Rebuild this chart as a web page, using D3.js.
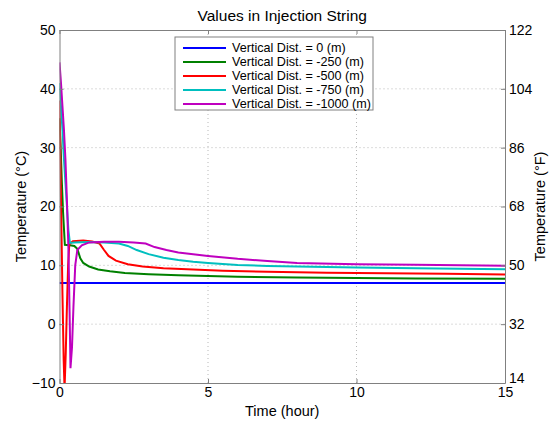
<!DOCTYPE html>
<html>
<head>
<meta charset="utf-8">
<script src="https://cdn.jsdelivr.net/npm/d3@7"></script>
<style>
  body { margin: 0; background: #fff; }
  svg { font-family: "Liberation Sans", Arial, sans-serif; }
  .axis path, .axis line { stroke: #808080; }
  .axis text { fill: #000; font-size: 14px; }
  .grid line { stroke: #b8b8b8; stroke-dasharray: 1,3; }
</style>
</head>
<body>
<svg id="chart"></svg>
<script>
// series names + colours
const seriesNames = ["Vertical Dist. = 0 (m)", "Vertical Dist. = -250 (m)", "Vertical Dist. = -500 (m)",
  "Vertical Dist. = -750 (m)", "Vertical Dist. = -1000 (m)"];
const seriesColors = ["#0000ff", "#008000", "#ff0000", "#00bfbf", "#bf00bf"];

// time (hour), temperature (C)
const dist0 = [[0, 7], [15, 7]];
const dist250 = [[0, 35], [0.04, 30], [0.08, 24], [0.12, 19], [0.18, 13.5], [0.35, 13.4], [0.5, 13.3],
  [0.6, 12.8], [0.7, 11.2], [0.8, 10.4], [1.0, 9.8], [1.3, 9.3], [1.7, 9.0], [2.2, 8.7], [3, 8.5],
  [4, 8.3], [5, 8.2], [6, 8.05], [8, 7.92], [10, 7.85], [12, 7.78], [15, 7.7]];
const dist500 = [[0, 38], [0.03, 28], [0.06, 18], [0.1, 5], [0.14, -6], [0.17, -11], [0.21, -5],
  [0.25, 3], [0.29, 10], [0.33, 13.6], [0.45, 14.1], [0.8, 14.2], [1.1, 14.05], [1.35, 13.7],
  [1.5, 12.6], [1.65, 11.6], [1.9, 10.8], [2.3, 10.2], [2.8, 9.8], [3.5, 9.5], [4.5, 9.3],
  [5.5, 9.1], [7, 8.9], [9, 8.75], [11, 8.65], [13, 8.55], [15, 8.45]];
const dist750 = [[0, 41], [0.05, 37], [0.1, 33], [0.15, 28], [0.2, 24], [0.25, 20], [0.3, 16],
  [0.35, 13.8], [0.5, 13.9], [1, 13.95], [1.5, 13.9], [2, 13.7], [2.3, 13.3], [2.6, 12.6],
  [3, 11.9], [3.5, 11.3], [4, 10.9], [4.5, 10.6], [5, 10.4], [6, 10.05], [7, 9.9], [8, 9.8],
  [10, 9.65], [12, 9.5], [15, 9.35]];
const dist1000 = [[0, 44.5], [0.05, 41], [0.1, 37], [0.15, 33], [0.2, 28], [0.25, 21], [0.3, 13],
  [0.34, 2], [0.37, -7.5], [0.42, -4], [0.47, 3], [0.53, 10], [0.6, 12.6], [0.75, 13.4],
  [1.0, 13.9], [1.5, 14], [2, 14], [2.5, 13.9], [2.9, 13.7], [3.2, 13.1], [3.6, 12.6], [4, 12.2],
  [4.5, 11.9], [5, 11.6], [6, 11.1], [7, 10.75], [8, 10.4], [10, 10.2], [12, 10.1], [15, 9.95]];
const seriesData = [dist0, dist250, dist500, dist750, dist1000];

const xTicks = [0, 5, 10, 15];
const cTicks = [-10, 0, 10, 20, 30, 40, 50];
const fTicks = [14, 32, 50, 68, 86, 104, 122];

const width = 557, height = 423;
const margin = {top: 30, right: 52, bottom: 40, left: 59.5};
const innerW = width - margin.left - margin.right;
const innerH = height - margin.top - margin.bottom;

const svg = d3.select("#chart").attr("width", width).attr("height", height);
const chart = svg.append("g").attr("transform", `translate(${margin.left},${margin.top})`);

const x = d3.scaleLinear().domain([0, 15]).range([0, innerW]);
const y = d3.scaleLinear().domain([-10, 50]).range([innerH, 0]);
const yF = d3.scaleLinear().domain([14, 122]).range([innerH, 0]);

// grid
chart.append("g").attr("class", "grid")
  .selectAll("line").data(cTicks.slice(1, -1)).join("line")
  .attr("x1", 0).attr("x2", innerW)
  .attr("y1", d => y(d)).attr("y2", d => y(d));
chart.append("g").attr("class", "grid")
  .selectAll("line").data(xTicks.slice(1, -1)).join("line")
  .attr("y1", 0).attr("y2", innerH)
  .attr("x1", d => x(d)).attr("x2", d => x(d));

// lines
chart.append("clipPath").attr("id", "clip")
  .append("rect").attr("width", innerW).attr("height", innerH);

const line = d3.line().x(d => x(d[0])).y(d => y(d[1]));
chart.append("g").attr("clip-path", "url(#clip)")
  .selectAll("path").data(seriesData).join("path")
  .attr("d", d => line(d))
  .attr("fill", "none")
  .attr("stroke", (d, i) => seriesColors[i])
  .attr("stroke-width", 2);

// axes (ticks pointing inside like matlab)
chart.append("g").attr("class", "axis")
  .attr("transform", `translate(0,${innerH})`)
  .call(d3.axisBottom(x).tickValues(xTicks).tickSize(-4).tickPadding(4).tickSizeOuter(0));
chart.append("g").attr("class", "axis")
  .call(d3.axisTop(x).tickValues(xTicks).tickSize(-4).tickFormat("").tickSizeOuter(0));
chart.append("g").attr("class", "axis")
  .call(d3.axisLeft(y).tickValues(cTicks).tickSize(-4).tickPadding(4).tickSizeOuter(0));
const rightAxis = chart.append("g").attr("class", "axis")
  .attr("transform", `translate(${innerW},0)`)
  .call(d3.axisRight(yF).tickValues(fTicks).tickSize(-4).tickPadding(4).tickSizeOuter(0));
// bottom label sits a bit higher so it doesn't run into the "15"
rightAxis.selectAll(".tick text").filter(d => d === 14).attr("dy", "-0.05em");

// titles
svg.append("text")
  .attr("x", margin.left + innerW / 2).attr("y", 21)
  .attr("text-anchor", "middle").style("font-size", "15.5px")
  .text("Values in Injection String");
svg.append("text")
  .attr("x", margin.left + innerW / 2).attr("y", 416)
  .attr("text-anchor", "middle").style("font-size", "14.5px")
  .text("Time (hour)");
svg.append("text")
  .attr("transform", `translate(26,${margin.top + innerH / 2}) rotate(-90)`)
  .attr("text-anchor", "middle").style("font-size", "14.5px")
  .text("Temperature (°C)");
svg.append("text")
  .attr("transform", `translate(545,${margin.top + innerH / 2}) rotate(-90)`)
  .attr("text-anchor", "middle").style("font-size", "14.5px")
  .text("Temperature (°F)");

// legend
const legend = svg.append("g").attr("transform", "translate(175,37)");
legend.append("rect")
  .attr("width", 198).attr("height", 73)
  .attr("fill", "#fff").attr("stroke", "#808080");
const rows = legend.selectAll("g.row").data(seriesNames).join("g")
  .attr("class", "row")
  .attr("transform", (d, i) => `translate(0,${11 + i * 14})`);
rows.append("line")
  .attr("x1", 8).attr("x2", 51)
  .attr("stroke", (d, i) => seriesColors[i]).attr("stroke-width", 2);
rows.append("text")
  .attr("x", 57).attr("dy", "0.35em")
  .style("font-size", "12.6px")
  .text(d => d);
</script>
</body>
</html>
